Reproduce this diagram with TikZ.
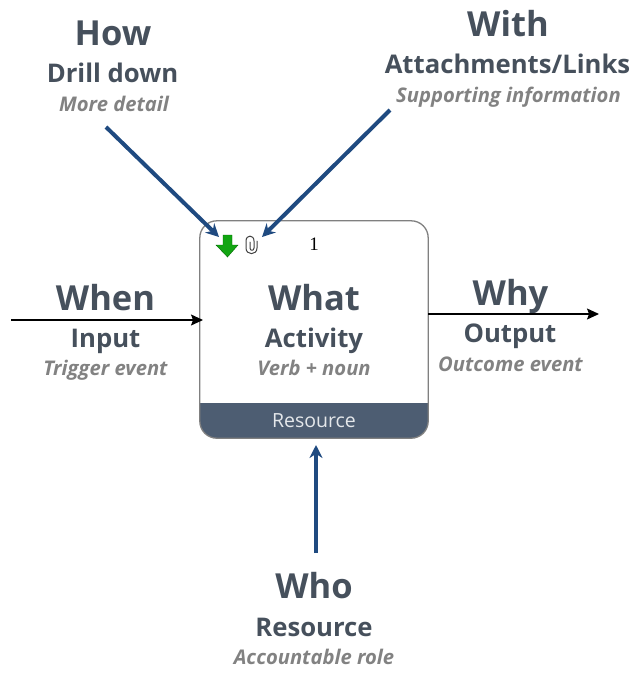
\documentclass[tikz,border=0pt]{standalone}
\usepackage{fontspec}
\setmainfont{Open Sans}
\newfontfamily\numfont{Liberation Serif}
\usetikzlibrary{arrows.meta}
\definecolor{titlecol}{HTML}{46505C}
\definecolor{hintcol}{HTML}{828282}
\definecolor{bandcol}{HTML}{4D5D72}
\definecolor{bluecol}{HTML}{1F4A80}
\definecolor{greencol}{HTML}{12A512}
\tikzset{
    bigword/.style={text=titlecol, inner sep=0pt, anchor=base, font=\fontsize{34.5}{34.5}\selectfont\bfseries},
    midword/.style={text=titlecol, inner sep=0pt, anchor=base, font=\fontsize{25.7}{25.7}\selectfont\bfseries},
    hintword/.style={text=hintcol, inner sep=0pt, anchor=base, font=\fontsize{20.2}{20.2}\selectfont\bfseries\itshape},
    bluearrow/.style={draw=bluecol, line width=4pt, -{Stealth[length=13pt,width=13pt]}},
    blackarrow/.style={draw=black, line width=1.1pt, -{Stealth[length=12pt,width=11pt,inset=2pt]}},
}
\begin{document}
\begin{tikzpicture}[x=1pt, y=-1pt]
    \useasboundingbox (0,0) rectangle (635,673);
    % activity box
    \node[minimum width=228pt, minimum height=217pt, inner sep=0pt] (box) at (314,329.5) {};
    \coordinate (bandleft) at (200,403);
    \coordinate (bandright) at (428,403);
    \fill[bandcol] (bandleft) {[rounded corners=17pt] -- (box.south west) -- (box.south east)} -- (bandright) -- cycle;
    \draw[gray, line width=1.3pt, rounded corners=17pt] (box.south west) rectangle (box.north east);
    \node[text=white!85!bandcol, inner sep=0pt, font=\fontsize{19.5}{19.5}\selectfont] (resource) at (314,421) {Resource};
    \node[inner sep=0pt, font=\fontsize{19}{19}\selectfont\numfont] (number) at (314,244) {1};
    % drill down icon
    \fill[greencol, draw=green!40!black, line width=.4pt] (223,235) -- (232,235) -- (232,245) -- (238,245) -- (227.5,257) -- (216,245) -- (223,245) -- cycle;
    % paperclip
    \draw[black!75, line width=1pt, line cap=round] (257,241) -- (257,248) .. controls (257,255.5) and (246,255.5) .. (246,248) -- (246,241) .. controls (246,234.5) and (254,234.5) .. (254,241) -- (254,248) .. controls (254,251) and (250,251) .. (250,248) -- (250,242);
    % labels
    \node[bigword] (how) at (113,45) {How};
    \node[midword] (drill) at (112.5,82) {Drill down};
    \node[hintword] (detail) at (114,111) {More detail};
    \node[bigword] (with) at (508,36) {With};
    \node[midword] (attach) at (507.5,73) {Attachments/Links};
    \node[hintword] (support) at (508.5,102) {Supporting information};
    \node[bigword] (when) at (105.5,310) {When};
    \node[midword] (input) at (105.5,347) {Input};
    \node[hintword] (trigger) at (105.5,375) {Trigger event};
    \node[bigword] (what) at (314,310) {What};
    \node[midword] (activity) at (314,347) {Activity};
    \node[hintword] (verb) at (314,375) {Verb + noun};
    \node[bigword] (why) at (510.5,305) {Why};
    \node[midword] (output) at (510,342) {Output};
    \node[hintword] (outcome) at (510.5,371) {Outcome event};
    \node[bigword] (who) at (314,598) {Who};
    \node[midword] (role) at (314,636) {Resource};
    \node[hintword] (account) at (314,664) {Accountable role};
    % connectors
    \coordinate (howstart) at (106,127);
    \coordinate (howend) at (219,237);
    \coordinate (withstart) at (390,110);
    \coordinate (withend) at (262,237);
    \coordinate (whostart) at (316,553);
    \coordinate (whoend) at (316,445);
    \coordinate (whenstart) at (11,320);
    \coordinate (whenend) at (203,320);
    \coordinate (whystart) at (428,314);
    \coordinate (whyend) at (599,314);
    \draw[bluearrow] (howstart) -- (howend);
    \draw[bluearrow] (withstart) -- (withend);
    \draw[bluearrow] (whostart) -- (whoend);
    \draw[blackarrow] (whenstart) -- (whenend);
    \draw[blackarrow] (whystart) -- (whyend);
\end{tikzpicture}
\end{document}
